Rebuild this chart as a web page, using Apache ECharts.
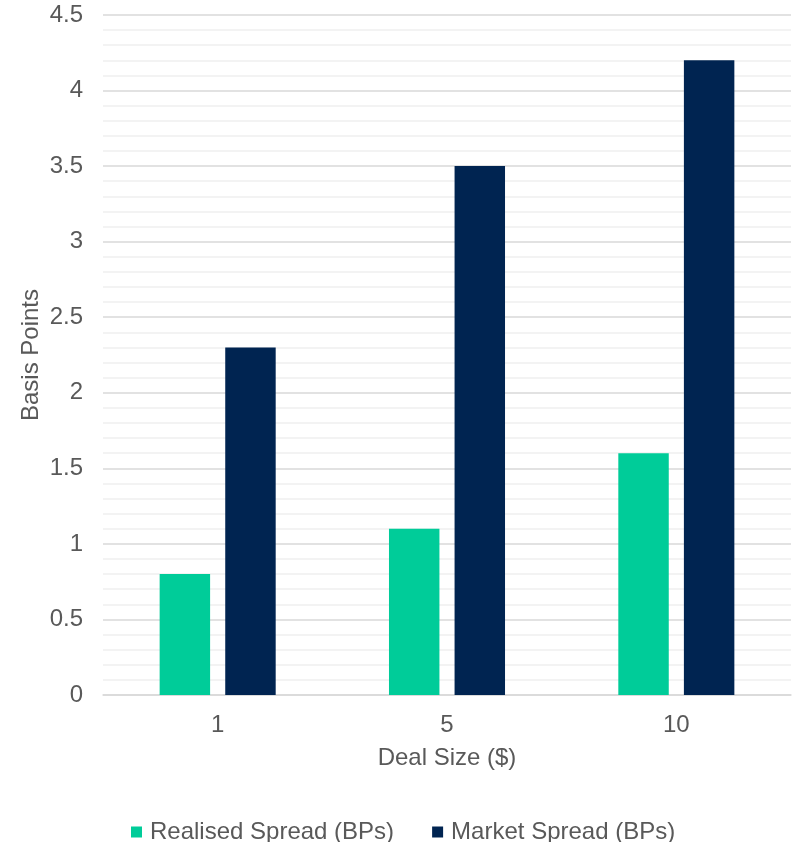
<!DOCTYPE html>
<html>
<head>
<meta charset="utf-8">
<script src="https://cdn.jsdelivr.net/npm/echarts@6/dist/echarts.min.js"></script>
<style>html,body{margin:0;padding:0;background:#fff}#c{width:792px;height:842px}</style>
</head>
<body>
<div id="c"></div>
<script>
var categories = ['1', '5', '10'];
var realisedSpread = [0.8, 1.1, 1.6];
var marketSpread = [2.3, 3.5, 4.2];
var seriesNames = ['Realised Spread (BPs)', 'Market Spread (BPs)'];

var FONT = '"Liberation Sans", Arial, sans-serif';
var FS = 24;
var chart = echarts.init(document.getElementById('c'));
chart.setOption({
  animation: false,
  textStyle: {fontFamily: FONT},
  grid: {left: 103, right: 1, top: 15, bottom: 147, containLabel: false},
  legend: {
    top: 815, left: 126,
    itemWidth: 11, itemHeight: 11, itemGap: 38,
    icon: 'rect',
    textStyle: {color: '#595959', fontSize: FS, fontFamily: FONT, padding: [0, 0, 0, 3]},
    data: seriesNames
  },
  xAxis: {
    type: 'category', data: categories,
    name: 'Deal Size ($)', nameLocation: 'middle', nameGap: 51,
    nameMoveOverlap: false,
    nameTextStyle: {color: '#595959', fontSize: FS, fontFamily: FONT},
    axisLine: {lineStyle: {color: '#d9d9d9', width: 1.5}},
    axisTick: {show: false},
    axisLabel: {color: '#595959', fontSize: FS, margin: 18, fontFamily: FONT}
  },
  yAxis: {
    type: 'value', min: 0, max: 4.5, interval: 0.5,
    name: 'Basis Points', nameLocation: 'middle', nameGap: 60,
    nameMoveOverlap: false,
    nameTextStyle: {color: '#595959', fontSize: FS, fontFamily: FONT},
    axisLine: {show: false}, axisTick: {show: false},
    axisLabel: {color: '#595959', fontSize: FS, margin: 20, fontFamily: FONT},
    splitLine: {lineStyle: {color: '#d9d9d9', width: 1.5}},
    minorTick: {show: false, splitNumber: 5},
    minorSplitLine: {show: true, lineStyle: {color: '#f0f0f0', width: 1.5}}
  },
  series: [
    {name: seriesNames[0], type: 'bar', data: realisedSpread, barWidth: '22%', barGap: '30%',
     itemStyle: {color: '#00CC99'}},
    {name: seriesNames[1], type: 'bar', data: marketSpread, barWidth: '22%', barGap: '30%',
     itemStyle: {color: '#002451'}}
  ]
});
</script>
</body>
</html>
